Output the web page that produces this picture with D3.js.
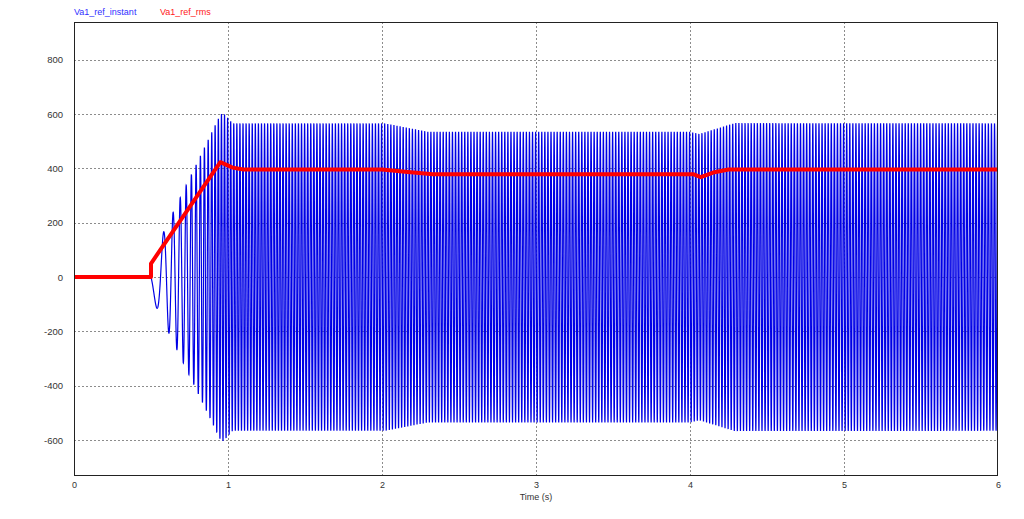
<!DOCTYPE html>
<html>
<head>
<meta charset="utf-8">
<script src="https://cdn.jsdelivr.net/npm/d3@7"></script>
<style>
  html, body { margin: 0; padding: 0; background: #fff; }
  svg { display: block; }
  text { font-family: "Liberation Sans", Arial, sans-serif; }
</style>
</head>
<body>
<svg id="chart" width="1024" height="519"></svg>
<script>
// ---- Data ----
const seriesNames = ["Va1_ref_instant", "Va1_ref_rms"];
const xTicks = [0, 1, 2, 3, 4, 5, 6];
const yTicks = [-600, -400, -200, 0, 200, 400, 600, 800];

// RMS trace (time s, value)
const rmsTime  = [0, 0.5, 0.5, 0.95, 1.03, 1.1, 2.0, 2.15, 2.33, 4.02, 4.07, 4.15, 4.25, 6];
const rmsValue = [0, 0,   50,  423,  403,  396, 396, 388,  379,  379,  368,  385,  396,  396];

// Peak envelope of the instantaneous waveform (time s, peak value)
const envTime  = [0, 0.5, 0.95, 0.97, 1.03, 2.02, 2.3, 4.0, 4.06, 4.29, 6];
const envValue = [0, 70,  598,  604,  566,  566,  535, 535, 527,  567,  566];

// Carrier frequency of the instantaneous waveform (time s, Hz)
const freqTime  = [0, 0.5, 0.95, 6];
const freqValue = [0, 5,   50,   50];
const startTime = 0.5;

// ---- Layout ----
const svg = d3.select("#chart");
const mLeft = 74, mRight = 998, mTop = 22, mBottom = 475.7;

const x = d3.scaleLinear().domain([0, 6]).range([mLeft, mRight]);
const y = d3.scaleLinear().domain([-731, 939]).range([mBottom, mTop]);

const env = d3.scaleLinear().domain(envTime).range(envValue).clamp(true);
const freq = d3.scaleLinear().domain(freqTime).range(freqValue).clamp(true);

// Build the instantaneous waveform from the envelope and carrier frequency
const dt = 0.0004;
const instant = [];
let phase = 0;
for (let i = 0; i <= Math.round(6 / dt); i++) {
  const t = i * dt;
  let v = 0;
  if (t >= startTime) {
    v = -env(t) * Math.sin(phase);
    phase += 2 * Math.PI * freq(t + dt / 2) * dt;
  }
  instant.push([t, v]);
}
const rms = rmsTime.map((t, i) => [t, rmsValue[i]]);

// ---- Grid ----
const grid = svg.append("g").attr("stroke", "#8c8c8c").attr("stroke-width", 1)
  .attr("stroke-dasharray", "2,2").attr("shape-rendering", "crispEdges");
grid.selectAll("line.v").data(xTicks.filter(d => d > 0 && d < 6)).enter().append("line")
  .attr("x1", d => Math.round(x(d)) + 0.5).attr("x2", d => Math.round(x(d)) + 0.5)
  .attr("y1", mTop).attr("y2", mBottom);
grid.selectAll("line.h").data(yTicks).enter().append("line")
  .attr("x1", mLeft).attr("x2", mRight)
  .attr("y1", d => Math.round(y(d)) + 0.5).attr("y2", d => Math.round(y(d)) + 0.5);

// ---- Clip ----
svg.append("clipPath").attr("id", "clip").append("rect")
  .attr("x", mLeft).attr("y", mTop).attr("width", mRight - mLeft).attr("height", mBottom - mTop);

const line = d3.line().x(d => x(d[0])).y(d => y(d[1]));

svg.append("path").datum(instant)
  .attr("clip-path", "url(#clip)")
  .attr("fill", "none").attr("stroke", "#0000e6").attr("stroke-width", 1.2)
  .attr("d", line);

svg.append("path").datum(rms)
  .attr("clip-path", "url(#clip)")
  .attr("fill", "none").attr("stroke", "#ff0000").attr("stroke-width", 4)
  .attr("stroke-linejoin", "round")
  .attr("d", line);

// ---- Frame ----
svg.append("rect").attr("x", mLeft + 0.5).attr("y", mTop + 0.5)
  .attr("width", mRight - mLeft - 1).attr("height", mBottom - mTop - 1)
  .attr("fill", "none").attr("stroke", "#222").attr("stroke-width", 1)
  .attr("shape-rendering", "crispEdges");

// ---- Axes labels ----
const plainFmt = d => String(d);
const yAxis = d3.axisLeft(y).tickValues(yTicks).tickSize(0).tickPadding(11).tickFormat(plainFmt);
svg.append("g").attr("transform", `translate(${mLeft},0)`).call(yAxis)
  .call(g => g.select(".domain").remove())
  .call(g => g.selectAll("text").attr("fill", "#333").style("font-size", "9.5px")
    .style("font-family", "'Liberation Sans', Arial, sans-serif"));

const xAxis = d3.axisBottom(x).tickValues(xTicks).tickSize(0).tickPadding(6).tickFormat(plainFmt);
svg.append("g").attr("transform", `translate(0,${mBottom})`).call(xAxis)
  .call(g => g.select(".domain").remove())
  .call(g => g.selectAll("text").attr("fill", "#333").style("font-size", "9px")
    .style("font-family", "'Liberation Sans', Arial, sans-serif"));

svg.append("text").attr("x", x(3)).attr("y", 500).attr("text-anchor", "middle")
  .attr("fill", "#333").style("font-size", "9px").text("Time (s)");

// ---- Legend ----
const legendColors = ["#3030ff", "#ff2020"];
const legendX = [74, 160];
svg.selectAll("text.legend").data(seriesNames).enter().append("text")
  .attr("class", "legend")
  .attr("x", (d, i) => legendX[i]).attr("y", 15)
  .attr("fill", (d, i) => legendColors[i]).style("font-size", "9px")
  .text(d => d);
</script>
</body>
</html>
